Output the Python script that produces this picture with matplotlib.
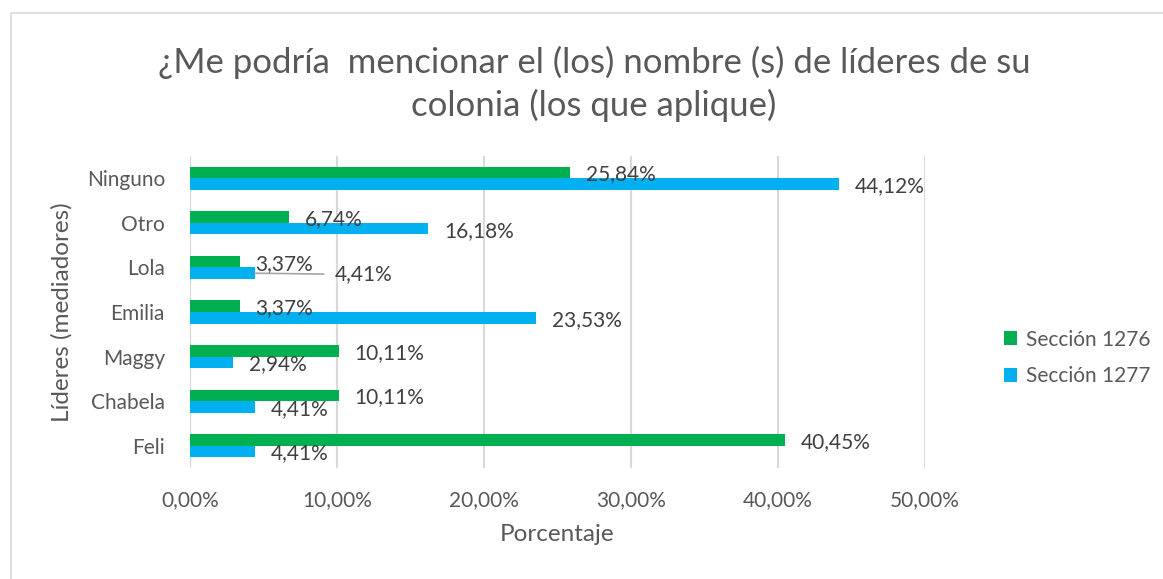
import matplotlib
matplotlib.use("Agg")
import matplotlib.pyplot as plt
import matplotlib.patches as patches
import numpy as np

# datos (de abajo hacia arriba, como en el eje)
lideres = ["Feli", "Chabela", "Maggy", "Emilia", "Lola", "Otro", "Ninguno"]
sec_1276 = [40.45, 10.11, 10.11, 3.37, 3.37, 6.74, 25.84]
sec_1277 = [4.41, 4.41, 2.94, 23.53, 4.41, 16.18, 44.12]
x_ticks = [0, 10, 20, 30, 40, 50]

VERDE = "#00B050"
AZUL = "#00B0F0"
GRIS_TXT = "#595959"
GRIS_LBL = "#404040"
GRIS_LINEA = "#D9D9D9"

plt.rcParams["font.family"] = ["Lato", "DejaVu Sans"]

W, H = 1163, 579
fig = plt.figure(figsize=(W / 100, H / 100), dpi=100)

# marco del grafico (sale por la derecha y abajo)
fig.patches.append(patches.Rectangle((11 / W, -0.1), 1.2, 566 / H + 0.1,
                                     transform=fig.transFigure, fill=False,
                                     edgecolor=GRIS_LINEA, linewidth=1.2))

ax = fig.add_axes([190 / W, 1 - 468 / H, (925 - 190) / W, (468 - 156) / H])

y = np.arange(len(lideres))
h = 0.26
b1 = ax.barh(y + h / 2, sec_1276, height=h, color=VERDE, label="Sección 1276", zorder=3)
b2 = ax.barh(y - h / 2, sec_1277, height=h, color=AZUL, label="Sección 1277", zorder=3)

ax.set_xlim(0, 50)
ax.set_ylim(-0.5, 6.5)
ax.set_xticks(x_ticks)
ax.set_xticklabels([f"{v:.2f}%".replace(".", ",") for v in x_ticks])
ax.set_yticks(y)
ax.set_yticklabels(lideres)
ax.tick_params(axis="both", length=0, labelsize=15, colors=GRIS_TXT)
ax.tick_params(axis="x", pad=16)
ax.tick_params(axis="y", pad=18)
ax.grid(axis="x", color=GRIS_LINEA, linewidth=1.5, zorder=0)
for s in ax.spines.values():
    s.set_visible(False)

ax.set_xlabel("Porcentaje", fontsize=17.5, color=GRIS_TXT, labelpad=10)
ax.set_ylabel("Líderes (mediadores)", fontsize=17.5, color=GRIS_TXT, labelpad=10)

# etiquetas de datos
def etiqueta(v):
    return f"{v:.2f}%".replace(".", ",")

for barras, vals in ((b1, sec_1276), (b2, sec_1277)):
    for i, (rect, v) in enumerate(zip(barras, vals)):
        yc = rect.get_y() + rect.get_height() / 2
        if barras is b2 and lideres[i] == "Lola":
            # etiqueta desplazada con linea guia
            ax.annotate(etiqueta(v), xy=(v, yc), xytext=(80, -1),
                        textcoords="offset pixels", va="center", ha="left",
                        fontsize=15, color=GRIS_LBL, zorder=4,
                        arrowprops=dict(arrowstyle="-", color="#A6A6A6",
                                        lw=1.2, shrinkA=6, shrinkB=0,
                                        relpos=(0, 0.5)))
        else:
            ax.annotate(etiqueta(v), xy=(v, yc), xytext=(16, -2),
                        textcoords="offset pixels", va="center", ha="left",
                        fontsize=15, color=GRIS_LBL, zorder=4)

fig.text(594 / W, 1 - 62 / H, "¿Me podría  mencionar el (los) nombre (s) de líderes de su",
         ha="center", va="center", fontsize=25, color=GRIS_TXT)
fig.text(594 / W, 1 - 105 / H, "colonia (los que aplique)",
         ha="center", va="center", fontsize=25, color=GRIS_TXT)

leg = fig.legend(handles=[b1, b2], loc="center left",
                 bbox_to_anchor=(985 / W, 1 - 358 / H), frameon=False,
                 fontsize=15, labelcolor=GRIS_TXT, handlelength=0.65,
                 handleheight=0.65, handletextpad=0.4, labelspacing=0.8)

fig.savefig("out.png", dpi=100)
